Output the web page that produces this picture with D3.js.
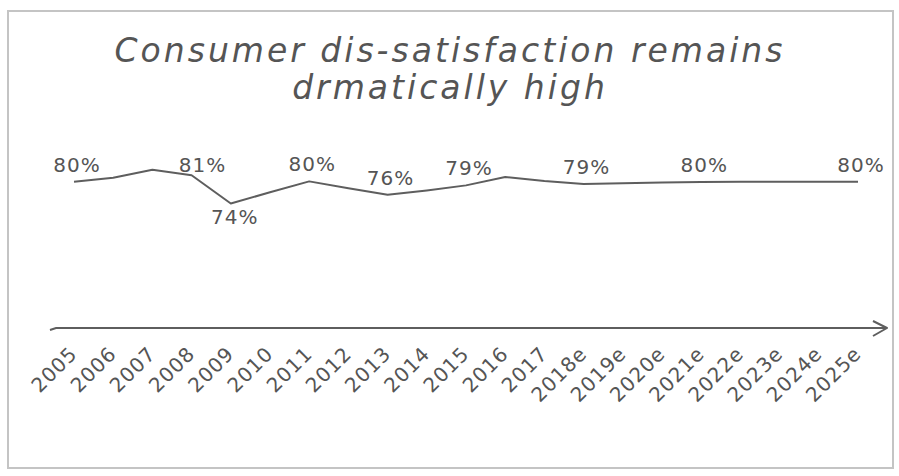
<!DOCTYPE html>
<html lang="en">
<head>
  <meta charset="utf-8">
  <title>Consumer dis-satisfaction</title>
  <style>
    body { margin: 0; padding: 0; background-color: #fff; }
    svg text { fill: #555; font-family: 'DejaVu Sans', sans-serif; }
  </style>
</head>
<body>
  <div id="my_dataviz"></div>
  <script src="https://d3js.org/d3.v7.min.js"></script>
  <script>
    // data
    var years = ["2005", "2006", "2007", "2008", "2009", "2010", "2011", "2012", "2013", "2014",
      "2015", "2016", "2017", "2018e", "2019e", "2020e", "2021e", "2022e", "2023e", "2024e", "2025e"];
    var values = [80.0, 81.1, 83.3, 81.8, 74.0, 77.1, 80.1, 78.2, 76.4, 77.6,
      79.0, 81.3, 80.2, 79.4, 79.6, 79.8, 79.9, 80.0, 80.0, 80.0, 80.0];
    var labelYears = ["2005", "2008", "2009", "2011", "2013", "2015", "2018e", "2021e", "2025e"];
    var labelTexts = ["80%", "81%", "74%", "80%", "76%", "79%", "79%", "80%", "80%"];
    var titleLines = ["Consumer dis-satisfaction remains", "drmatically high"];

    var width = 899, height = 476;

    var svg = d3.select("#my_dataviz")
      .append("svg")
      .attr("width", width)
      .attr("height", height);

    // frame
    svg.append("rect")
      .attr("x", 8).attr("y", 11)
      .attr("width", 885).attr("height", 457)
      .attr("fill", "none")
      .attr("stroke", "#c4c4c4")
      .attr("stroke-width", 2);

    // title
    svg.append("g")
      .selectAll("text")
      .data(titleLines)
      .enter()
      .append("text")
      .attr("x", 450)
      .attr("y", function (d, i) { return 62 + i * 37; })
      .attr("text-anchor", "middle")
      .style("font-size", "33px")
      .style("letter-spacing", "3px")
      .style("font-style", "italic")
      .style("font-weight", "300")
      .text(function (d) { return d; });

    // scales
    var x = d3.scalePoint().domain(years).range([74, 858]);
    var y = d3.scaleLinear().domain([70, 90]).range([218, 145.5]);

    // the line
    var pts = years.map(function (d, i) { return [d, values[i]]; });
    svg.append("path")
      .datum(pts)
      .attr("fill", "none")
      .attr("stroke", "#5e5e5e")
      .attr("stroke-width", 2)
      .attr("stroke-linejoin", "round")
      .attr("d", d3.line()
        .x(function (d) { return x(d[0]); })
        .y(function (d) { return y(d[1]); }));

    // value labels
    var nudge = { "2008": [11, 7], "2009": [4, 0] };
    svg.append("g")
      .selectAll("text")
      .data(labelYears)
      .enter()
      .append("text")
      .attr("text-anchor", "middle")
      .style("font-size", "20px")
      .style("letter-spacing", "1px")
      .attr("x", function (d) { return x(d) + (nudge[d] ? nudge[d][0] : 3); })
      .attr("y", function (d, i) {
        var v = values[years.indexOf(d)];
        if (d === "2009") return y(v) + 20;
        return y(v) - 10 + (nudge[d] ? nudge[d][1] : 0);
      })
      .text(function (d, i) { return labelTexts[i]; });

    // x axis with arrow
    var axisY = 328;
    var gx = svg.append("g")
      .attr("transform", "translate(0," + axisY + ")")
      .call(d3.axisBottom(x).tickSize(0).tickPadding(0));
    gx.select(".domain").remove();
    gx.selectAll(".tick text")
      .attr("text-anchor", "end")
      .attr("fill", "#555")
      .style("font-size", "20px")
      .style("letter-spacing", "1px")
      .style("font-family", "'DejaVu Sans', sans-serif")
      .attr("dy", 0)
      .attr("y", 0)
      .attr("transform", "translate(4,27) rotate(-45)");

    var x0 = x(years[0]) - 24, x1 = x(years[years.length - 1]) + 29;
    gx.append("path")
      .attr("fill", "none")
      .attr("stroke", "#5e5e5e")
      .attr("stroke-width", 2)
      .attr("d", d3.line()([[x0, 2], [x0 + 6, 0], [x1, 0]]));
    gx.append("path")
      .attr("fill", "none")
      .attr("stroke", "#5e5e5e")
      .attr("stroke-width", 2)
      .attr("stroke-linejoin", "round")
      .attr("d", d3.line()([[x1 - 14, -7], [x1, 0], [x1 - 14, 8]]));
  </script>
</body>
</html>
